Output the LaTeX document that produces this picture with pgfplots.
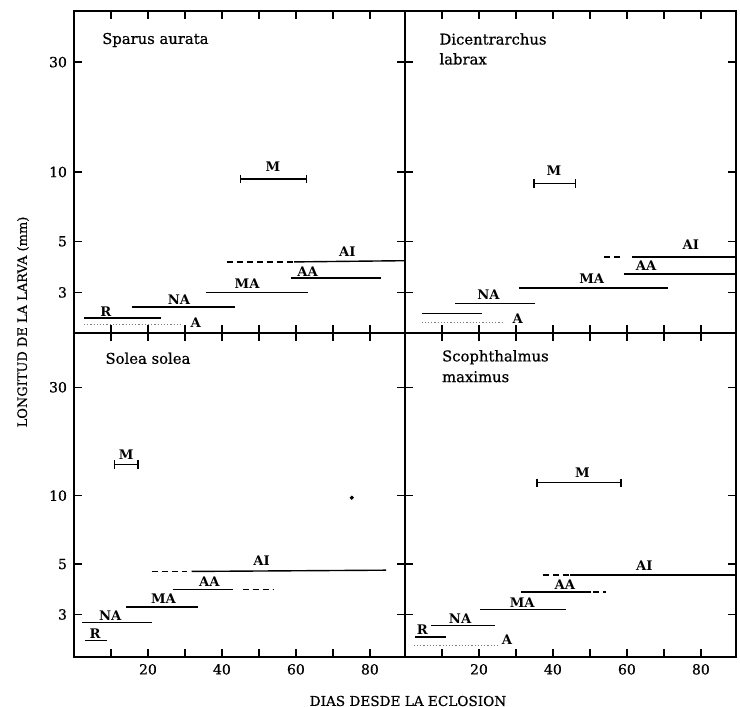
\documentclass[border=0pt]{standalone}
\usepackage{fontspec}
\setmainfont{DejaVu Serif}
\newfontfamily\mdish{DejaVu Serif}[FakeBold=0.6]
\usepackage{pgfplots}
\pgfplotsset{compat=1.18}
\pgfplotsset{
  panel/.style={
    scale only axis, width=165.5pt, anchor=south west,
    xmin=0, xmax=89.5,
    xtick={10,20,...,80}, ytick={3,5,10,30}, minor ytick={},
    xticklabels={}, yticklabels={},
    tick align=inside, tick pos=both,
    major tick length=4pt,
    every tick/.style={black, line width=0.75pt},
    axis line style={line width=1pt},
    ticklabel style={font=\mdish\fontsize{7}{8}\selectfont},
    clip=false,
  },
  seg/.style={black, line width=0.7pt, no marks},
  dsh/.style={black, line width=0.7pt, no marks, dash pattern=on 3pt off 2pt},
  dot/.style={gray, line width=0.6pt, no marks, densely dotted},
  mseg/.style={black, line width=0.7pt, mark=|, mark size=2.1pt, mark options={solid, line width=0.6pt}},
}
\tikzset{lab/.style={font=\bfseries\fontsize{6.6}{8}\selectfont, inner sep=0pt},
         ttl/.style={font=\mdish\fontsize{7.4}{8}\selectfont, inner sep=0pt, anchor=west}}
\begin{document}
\begin{tikzpicture}
\path[use as bounding box] (0,0) rectangle (370pt,353.5pt);
% ---------------- top left: Sparus aurata
\begin{semilogyaxis}[panel, at={(37pt,187pt)}, height=161pt, ymin=2, ymax=50,
  yticklabels={3,5,10,30}]
\addplot[dot] coordinates {(2.7,2.17) (29.2,2.17)};
\addplot[seg] coordinates {(2.7,2.32) (23.4,2.32)};
\addplot[seg] coordinates {(15.6,2.59) (43.4,2.59)};
\addplot[seg] coordinates {(35.6,3.0) (63.3,3.0)};
\addplot[seg] coordinates {(58.6,3.46) (82.9,3.46)};
\addplot[dsh] coordinates {(41.4,4.07) (59.5,4.07)};
\addplot[seg] coordinates {(59.5,4.07) (89.5,4.12)};
\addplot[mseg] coordinates {(45,9.31) (62.8,9.31)};
\node[lab] at (axis cs:8.6,2.47) {R};
\node[lab] at (axis cs:32.9,2.22) {A};
\node[lab] at (axis cs:28.4,2.80) {NA};
\node[lab] at (axis cs:46.8,3.29) {MA};
\node[lab] at (axis cs:63.2,3.69) {AA};
\node[lab] at (axis cs:73.9,4.51) {AI};
\node[lab] at (axis cs:53.8,10.5) {M};
\node[ttl] at (rel axis cs:0.084,0.91) {Sparus aurata};
\end{semilogyaxis}
% ---------------- top right: Dicentrarchus labrax
\begin{semilogyaxis}[panel, at={(202.5pt,187pt)}, height=161pt, ymin=2, ymax=50]
\addplot[dot] coordinates {(4.5,2.22) (26.3,2.22)};
\addplot[seg] coordinates {(4.5,2.43) (20.8,2.43)};
\addplot[seg] coordinates {(13.6,2.69) (35.1,2.69)};
\addplot[seg] coordinates {(30.8,3.13) (71.1,3.13)};
\addplot[seg] coordinates {(59.1,3.6) (89.5,3.6)};
\addplot[dsh] coordinates {(53.9,4.27) (59.3,4.27)};
\addplot[seg] coordinates {(61.4,4.27) (89.5,4.27)};
\addplot[mseg] coordinates {(34.9,8.9) (46,8.9)};
\node[lab] at (axis cs:30.5,2.30) {A};
\node[lab] at (axis cs:22.6,2.93) {NA};
\node[lab] at (axis cs:50.5,3.43) {MA};
\node[lab] at (axis cs:65.2,3.90) {AA};
\node[lab] at (axis cs:77.3,4.85) {AI};
\node[lab] at (axis cs:40.3,10.1) {M};
\node[ttl] at (rel axis cs:0.103,0.913) {Dicentrarchus};
\node[ttl] at (rel axis cs:0.103,0.851) {labrax};
\end{semilogyaxis}
% ---------------- bottom left: Solea solea
\begin{semilogyaxis}[panel, at={(37pt,25pt)}, height=162pt, ymin=1.95, ymax=52,
  yticklabels={3,5,10,30}, xticklabels={,20,,40,,60,,80}]
\addplot[seg] coordinates {(3.0,2.30) (8.9,2.30)};
\addplot[seg] coordinates {(2.2,2.76) (21,2.76)};
\addplot[seg] coordinates {(14.1,3.23) (33.6,3.23)};
\addplot[seg] coordinates {(26.7,3.87) (43,3.87)};
\addplot[dsh] coordinates {(45.6,3.87) (53.8,3.87)};
\addplot[dsh] coordinates {(21,4.64) (30.5,4.64)};
\addplot[seg] coordinates {(31.8,4.64) (84.4,4.70)};
\addplot[mseg] coordinates {(11,13.7) (17.3,13.7)};
\addplot[black, only marks, mark=*, mark size=0.8pt] coordinates {(75.1,9.8)};
\node[lab] at (axis cs:5.7,2.47) {R};
\node[lab] at (axis cs:9.8,2.97) {NA};
\node[lab] at (axis cs:24.2,3.52) {MA};
\node[lab] at (axis cs:36.6,4.17) {AA};
\node[lab] at (axis cs:50.7,5.20) {AI};
\node[lab] at (axis cs:14.1,15.2) {M};
\node[ttl] at (rel axis cs:0.094,0.922) {Solea solea};
\end{semilogyaxis}
% ---------------- bottom right: Scophthalmus maximus
\begin{semilogyaxis}[panel, at={(202.5pt,25pt)}, height=162pt, ymin=1.95, ymax=52,
  xticklabels={,20,,40,,60,,80}]
\addplot[dot] coordinates {(2.4,2.19) (25.5,2.19)};
\addplot[seg] coordinates {(2.7,2.39) (11.2,2.39)};
\addplot[seg] coordinates {(7,2.69) (24.2,2.69)};
\addplot[seg] coordinates {(20.3,3.15) (43.6,3.15)};
\addplot[seg] coordinates {(31.4,3.77) (50.4,3.77)};
\addplot[dsh] coordinates {(50.9,3.77) (54.4,3.77)};
\addplot[dsh] coordinates {(37.3,4.48) (44.6,4.48)};
\addplot[seg] coordinates {(44.6,4.48) (89.5,4.48)};
\addplot[mseg] coordinates {(35.7,11.4) (58.4,11.4)};
\node[lab] at (axis cs:4.7,2.57) {R};
\node[lab] at (axis cs:27.6,2.32) {A};
\node[lab] at (axis cs:14.9,2.87) {NA};
\node[lab] at (axis cs:31.7,3.38) {MA};
\node[lab] at (axis cs:43.2,4.05) {AA};
\node[lab] at (axis cs:64.7,4.91) {AI};
\node[lab] at (axis cs:48,12.6) {M};
\node[ttl] at (rel axis cs:0.111,0.925) {Scophthalmus};
\node[ttl] at (rel axis cs:0.111,0.865) {maximus};
\end{semilogyaxis}
% ---------------- axis titles
\node[font=\mdish\fontsize{6.5}{7}\selectfont, rotate=90, inner sep=0pt] at (11.5pt,192.5pt) {LONGITUD DE LA LARVA (mm)};
\node[font=\mdish\fontsize{6.8}{7}\selectfont, inner sep=0pt] at (204pt,3pt) {DIAS DESDE LA ECLOSION};
\end{tikzpicture}
\end{document}
